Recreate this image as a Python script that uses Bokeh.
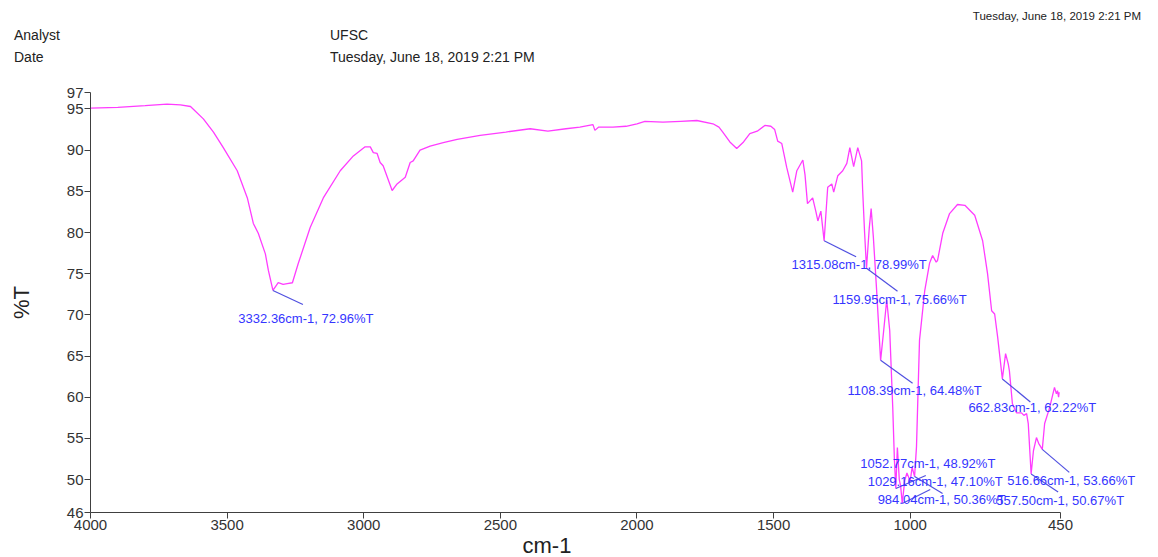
from bokeh.plotting import figure
from bokeh.layouts import column
from bokeh.models import Range1d, FixedTicker, ColumnDataSource, LabelSet, Arrow, Div, Title
from bokeh.core.properties import value
from bokeh.embed import file_html
from bokeh.resources import INLINE

# FTIR transmittance spectrum
wavenumber = [
    4000, 3900, 3800, 3720, 3671, 3634, 3587, 3550, 3514, 3463, 3426, 3404, 3386,
    3360, 3349, 3332.36, 3313, 3295, 3280, 3261, 3240, 3196, 3148, 3086, 3038,
    2995, 2976, 2965, 2951, 2940, 2929, 2896, 2878, 2848, 2830, 2819, 2794, 2757,
    2709, 2658, 2574, 2480, 2391, 2326, 2260, 2209, 2161, 2154, 2140, 2088, 2040,
    2000, 1971, 1905, 1840, 1781, 1722, 1700, 1686, 1660, 1635, 1610, 1587, 1560,
    1532, 1510, 1496, 1485, 1470, 1452, 1430, 1415, 1393, 1385, 1376, 1357, 1345,
    1338, 1327, 1315.08, 1302, 1287, 1280, 1265, 1247, 1232, 1221, 1207, 1192,
    1178, 1174, 1167, 1159.95, 1150, 1143, 1135, 1123, 1108.39, 1098, 1086, 1075,
    1064, 1058, 1052.77, 1047, 1040, 1035, 1029.16, 1020, 1012, 1000, 993, 984.04,
    977, 966, 947, 929, 918, 905, 900, 881, 856, 827, 800, 764, 735, 717, 702,
    691, 680, 662.83, 651, 641, 637, 626, 611, 593, 584, 574, 568, 557.50, 549,
    538, 530, 516.66, 508, 490, 472, 465, 461, 457, 455,
]
transmittance = [
    95.1, 95.2, 95.4, 95.6, 95.5, 95.3, 93.8, 92.2, 90.3, 87.5, 84.2, 81.1, 79.9,
    77.4, 75.4, 72.96, 73.9, 73.7, 73.8, 73.9, 76.2, 80.6, 84.2, 87.5, 89.3,
    90.4, 90.4, 89.7, 89.6, 88.5, 88.1, 85.1, 85.9, 86.7, 88.5, 88.7, 90.0, 90.5,
    90.9, 91.3, 91.8, 92.2, 92.6, 92.3, 92.6, 92.8, 93.1, 92.4, 92.8, 92.8, 92.9,
    93.2, 93.5, 93.4, 93.5, 93.6, 93.2, 92.8, 92.2, 91.0, 90.2, 91.0, 92.0, 92.3,
    93.0, 92.9, 92.5, 91.1, 90.8, 87.9, 84.9, 87.5, 88.8, 87.0, 83.5, 84.2, 82.5,
    81.4, 82.6, 78.99, 85.5, 85.9, 84.9, 86.9, 87.5, 88.4, 90.3, 88.0, 90.3,
    88.7, 85.1, 80.0, 75.66, 80.5, 82.9, 79.5, 73.0, 64.48, 67.8, 71.8, 68.1,
    58.8, 52.5, 48.92, 53.9, 50.0, 49.2, 47.10, 49.9, 50.8, 49.8, 51.5, 50.36,
    54.0, 66.9, 72.9, 76.3, 77.2, 76.4, 76.6, 79.9, 82.3, 83.4, 83.3, 82.1, 79.0, 75.0, 70.5,
    70.1, 67.3, 62.22, 65.3, 64.0, 63.2, 59.2, 58.1, 58.1, 57.8, 58.0, 56.8, 50.67, 53.5,
    55.1, 54.4, 53.66, 56.8, 58.7, 61.2, 60.4, 60.8, 60.0, 60.6,
]

# picked peaks
peak_wavenumber = [3332.36, 1315.08, 1159.95, 1108.39, 1052.77, 1029.16, 984.04, 662.83, 557.50, 516.66]
peak_transmittance = [72.96, 78.99, 75.66, 64.48, 48.92, 47.10, 50.36, 62.22, 50.67, 53.66]

x_ticks = [4000, 3500, 3000, 2500, 2000, 1500, 1000, 450]
y_ticks = [46, 50, 55, 60, 65, 70, 75, 80, 85, 90, 95, 97]

# report header
report_date = "Tuesday, June 18, 2019 2:21 PM"
analyst = "UFSC"

# leader line (dx, dy) and label shift from the line end, in screen pixels (dy down)
leader_px = [(30, 14), (32, 16), (31, 23), (32, 23), (30, -13), (28, -14), (28, 17), (28, 23), (27, 18), (27, 23)]
label_px = [(3, 14), (3, 8), (2, 8), (2, 7), (2, -12), (5, -8), (-1, 6), (2, 6), (2, 8), (2, 8)]

W, H = 1158, 557
HEAD_H = 70
X0, X1 = 4000, 450
Y0, Y1 = 46, 97
AXIS_W, FRAME_H = 970, 420          # pixel span of the 4000..450 and 46..97 axes
LEFT, TOP = 90, 92
EXTRA_RIGHT = 85                      # room for the labels right of 450
sx = AXIS_W / (X0 - X1)
sy = FRAME_H / (Y1 - Y0)

FONT = "Liberation Sans"

# header strip
def span(text, left, cy, size, right=None):
    pos = f"right:{W - right}px;" if right is not None else f"left:{left}px;"
    return (f'<span style="position:absolute;{pos}top:{cy - size * 0.6:.1f}px;'
            f'font-size:{size}px;line-height:1.2;white-space:nowrap">{text}</span>')

head_html = (
    f'<div style="position:relative;width:{W}px;height:{HEAD_H}px;'
    f"font-family:'{FONT}';color:#222222\">"
    + span(report_date, 0, 17, 11.5, right=1141)
    + span("Analyst", 14, 35, 14)
    + span(analyst, 330, 35, 14)
    + span("Date", 14, 57, 14)
    + span(report_date, 330, 57, 14)
    + "</div>"
)
head = Div(text=head_html, width=W, height=HEAD_H, margin=0)

# spectrum
p = figure(width=W, height=H - HEAD_H,
           x_range=Range1d(X0, X1 - EXTRA_RIGHT / sx), y_range=Range1d(Y0, Y1),
           output_backend="svg", toolbar_location=None,
           min_border_left=LEFT, min_border_right=W - LEFT - AXIS_W - EXTRA_RIGHT,
           min_border_top=TOP - HEAD_H, min_border_bottom=H - TOP - FRAME_H)
p.outline_line_color = None
p.grid.visible = False
p.background_fill_color = "white"
p.border_fill_color = "white"

p.xaxis.ticker = FixedTicker(ticks=x_ticks)
p.yaxis.ticker = FixedTicker(ticks=y_ticks)
p.xaxis.bounds = (X1, X0)
for ax in (p.xaxis, p.yaxis):
    ax.axis_line_color = "#404040"
    ax.axis_line_width = 1
    ax.major_tick_line_color = "#404040"
    ax.major_tick_out = 6
    ax.major_tick_in = 0
    ax.minor_tick_out = 0
    ax.minor_tick_in = 0
    ax.major_label_text_font = FONT
    ax.major_label_text_font_size = "15px"
    ax.major_label_text_color = "#333333"
    ax.axis_label_text_font = FONT
    ax.axis_label_text_font_size = "22px"
    ax.axis_label_text_font_style = "normal"
    ax.axis_label_text_color = "#222222"
p.yaxis.major_label_standoff = 1
p.xaxis.major_label_standoff = 1
p.yaxis.axis_label = "%T"
p.yaxis.axis_label_standoff = 30

# x-axis title, set left of the frame centre
p.add_layout(Title(text="cm-1", align="left", offset=432, standoff=-4,
                   text_font=FONT, text_font_size="22px", text_font_style="normal",
                   text_color="#222222"), "below")

p.line(wavenumber, transmittance, line_color="#ff3cff", line_width=1.3)

# leader lines and peak labels
xe, ye, xl, yl, txt = [], [], [], [], []
for w, t, (dx, dy), (lx, ly) in zip(peak_wavenumber, peak_transmittance, leader_px, label_px):
    ex = w - dx / sx
    ey = t - dy / sy
    xe.append(ex)
    ye.append(ey)
    xl.append(ex - lx / sx)
    yl.append(ey - ly / sy)
    txt.append(f"{w:.2f}cm-1, {t:.2f}%T")

src = ColumnDataSource(dict(x=peak_wavenumber, y=peak_transmittance, xe=xe, ye=ye, xl=xl, yl=yl, txt=txt))
p.add_layout(Arrow(end=None, source=src, x_start="x", y_start="y", x_end="xe", y_end="ye",
                   line_color="#5050e0", line_width=1.2))
p.add_layout(LabelSet(source=src, x="xl", y="yl", text="txt", text_align="center",
                      text_baseline="middle", text_font=value(FONT),
                      text_font_size=value("13px"), text_color="#3535ff"))

layout = column(head, p, spacing=0)
open("out.html", "w").write(file_html(layout, INLINE))
